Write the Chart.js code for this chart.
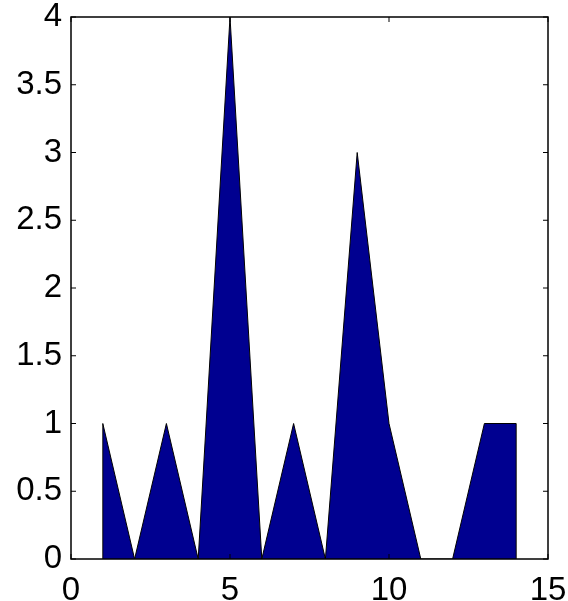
<!DOCTYPE html>
<html>
<head>
<meta charset="utf-8">
<script src="https://cdn.jsdelivr.net/npm/chart.js@4/dist/chart.umd.min.js"></script>
<style>
  html, body { margin: 0; padding: 0; background: #fff; }
  #wrap { width: 568px; height: 601px; }
</style>
</head>
<body>
<div id="wrap"><canvas id="grafico" width="568" height="601"></canvas></div>
<script>
// datos del grafico
var xValores = [1, 2, 3, 4, 5, 6, 7, 8, 9, 10, 11, 12, 13, 14];
var yValores = [1, 0, 1, 0, 4, 0, 1, 0, 3, 1, 0, 0, 1, 1];
var xTicks = [0, 5, 10, 15];
var yTicks = [0, 0.5, 1, 1.5, 2, 2.5, 3, 3.5, 4];

var fuente = { family: "'Liberation Sans', Arial, sans-serif", size: 33, lineHeight: 1 };

// marco y ticks hacia dentro, estilo matlab
var marco = {
    id: 'marco',
    afterDatasetsDraw: function (chart) {
        var ctx = chart.ctx;
        var a = chart.chartArea;
        var xs = chart.scales.x;
        var ys = chart.scales.y;
        ctx.save();
        // bordes verticales del area
        ctx.strokeStyle = '#000';
        ctx.lineWidth = 1;
        var x0 = xs.getPixelForValue(xValores[0]);
        var x1 = xs.getPixelForValue(xValores[xValores.length - 1]);
        ctx.beginPath();
        ctx.moveTo(x0, ys.getPixelForValue(0));
        ctx.lineTo(x0, ys.getPixelForValue(yValores[0]));
        ctx.moveTo(x1, ys.getPixelForValue(0));
        ctx.lineTo(x1, ys.getPixelForValue(yValores[yValores.length - 1]));
        ctx.stroke();

        ctx.lineWidth = 1.5;
        ctx.strokeRect(a.left, a.top, a.right - a.left, a.bottom - a.top);
        ctx.lineWidth = 1;
        var t = 5;
        ctx.beginPath();
        xTicks.forEach(function (v) {
            var px = xs.getPixelForValue(v);
            ctx.moveTo(px, a.bottom);
            ctx.lineTo(px, a.bottom - t);
            ctx.moveTo(px, a.top);
            ctx.lineTo(px, a.top + t);
        });
        yTicks.forEach(function (v) {
            var py = ys.getPixelForValue(v);
            ctx.moveTo(a.left, py);
            ctx.lineTo(a.left + t, py);
            ctx.moveTo(a.right, py);
            ctx.lineTo(a.right - t, py);
        });
        ctx.stroke();
        ctx.restore();
    }
};

var puntos = xValores.map(function (x, i) {
    return { x: x, y: yValores[i] };
});

new Chart(document.getElementById('grafico'), {
    type: 'line',
    data: {
        datasets: [{
            data: puntos,
            fill: 'origin',
            backgroundColor: '#000090',
            borderColor: '#000',
            borderWidth: 1,
            pointRadius: 0,
            tension: 0
        }]
    },
    options: {
        responsive: false,
        animation: false,
        layout: { padding: { left: 0, right: 20, top: 17, bottom: 0 } },
        plugins: { legend: { display: false }, tooltip: { enabled: false } },
        scales: {
            x: {
                type: 'linear',
                min: 0,
                max: 15,
                afterBuildTicks: function (s) {
                    s.ticks = xTicks.map(function (v) { return { value: v }; });
                },
                afterFit: function (s) {
                    s.height = 42;
                    s.paddingLeft = 0;
                    s.paddingRight = 0;
                },
                grid: { display: false, drawTicks: false },
                border: { display: false },
                ticks: { color: '#000', font: fuente, padding: 15, maxRotation: 0 }
            },
            y: {
                min: 0,
                max: 4,
                afterBuildTicks: function (s) {
                    s.ticks = yTicks.map(function (v) { return { value: v }; });
                },
                afterFit: function (s) {
                    s.width = 71;
                    s.paddingTop = 0;
                    s.paddingBottom = 0;
                },
                grid: { display: false, drawTicks: false },
                border: { display: false },
                ticks: {
                    color: '#000', font: fuente, padding: 9,
                    callback: function (v) { return String(v); }
                }
            }
        }
    },
    plugins: [marco]
});
</script>
</body>
</html>
